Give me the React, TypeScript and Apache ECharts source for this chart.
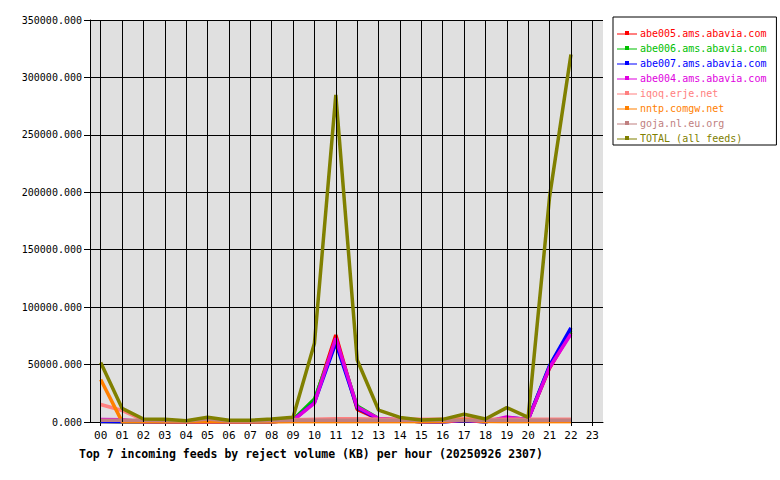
import React, { useEffect, useRef } from "react";
import * as echarts from "echarts";

const hours = ["00","01","02","03","04","05","06","07","08","09","10","11","12","13","14","15","16","17","18","19","20","21","22","23"];

const abe005 = [500, 200, 200, 100, 100, 300, 100, 100, 200, 1500, 18000, 75700, 11000, 2500, 1500, 200, 300, 1200, 300, 3000, 2500, 47000, 78000, null];
const abe006 = [500, 200, 200, 100, 100, 300, 100, 100, 200, 2000, 20000, 71000, 14000, 3000, 1500, 200, 300, 1200, 300, 3500, 2500, 48500, 80000, null];
const abe007 = [500, 200, 200, 100, 100, 300, 100, 100, 200, 1500, 17000, 68800, 12500, 2500, 1500, 200, 300, 1200, 300, 3500, 2500, 49000, 82000, null];
const abe004 = [2200, 2000, 300, 200, 100, 300, 100, 100, 200, 1500, 16500, 72900, 13000, 3000, 2000, 200, 300, 1500, 300, 4300, 2000, 47500, 76600, null];
const iqoq = [15200, 10000, 1500, 1000, 500, 1500, 500, 500, 1000, 2000, 2500, 2800, 2800, 2500, 2500, 2500, 2500, 2800, 2500, 2500, 2500, 2500, 2500, null];
const nntp = [37000, 300, 200, 100, 100, 300, 100, 100, 100, 200, 300, 300, 300, 300, 300, 300, 500, 2000, 500, 300, 300, 300, 300, null];
const goja = [1500, 1500, 1500, 1200, 800, 2500, 800, 800, 1200, 1500, 1500, 1500, 1500, 1500, 1500, 1500, 1500, 1500, 1500, 1500, 1500, 1500, 1500, null];
const total = [51800, 11900, 2600, 2300, 1100, 4100, 1500, 1500, 2600, 4100, 68500, 284700, 54000, 10400, 4000, 1700, 2300, 6700, 2600, 12500, 4100, 196000, 320000, null];

const seriesDefs = [
  { name: "abe005.ams.abavia.com", color: "#ff0000", data: abe005 },
  { name: "abe006.ams.abavia.com", color: "#00c000", data: abe006 },
  { name: "abe007.ams.abavia.com", color: "#0000ff", data: abe007 },
  { name: "abe004.ams.abavia.com", color: "#e000e0", data: abe004 },
  { name: "iqoq.erje.net", color: "#ff8080", data: iqoq },
  { name: "nntp.comgw.net", color: "#ff8000", data: nntp },
  { name: "goja.nl.eu.org", color: "#c08080", data: goja },
  { name: "TOTAL (all feeds)", color: "#808000", data: total },
];

const title = "Top 7 incoming feeds by reject volume (KB) per hour (20250926 2307)";
const mono = "DejaVu Sans Mono";

export default function App() {
  const ref = useRef<HTMLDivElement>(null);
  useEffect(() => {
    if (!ref.current) return;
    const chart = echarts.init(ref.current, null, { renderer: "svg" });
    chart.setOption({
      animation: false,
      backgroundColor: "#ffffff",
      title: {
        text: title,
        left: 74,
        top: 443,
        textStyle: { fontFamily: mono, fontSize: 11.5, fontWeight: "bold", color: "#000" },
      },
      legend: {
        orient: "vertical",
        left: 613,
        top: 17,
        padding: [10, 10, 1, 4],
        backgroundColor: "#ffffff",
        borderColor: "#000",
        borderWidth: 1,
        borderRadius: 0,
        itemWidth: 20,
        itemHeight: 6,
        itemGap: 3,
        icon: "path://M0,2.5L8,2.5L8,0L12,0L12,2.5L20,2.5L20,3.5L12,3.5L12,4L8,4L8,3.5L0,3.5Z",
        textStyle: { fontFamily: mono, fontSize: 10, lineHeight: 12, padding: [0, 0, 0, -2] },
        data: seriesDefs.map((s) => ({ name: s.name, textStyle: { color: s.color } })),
      },
      grid: {
        left: 90,
        right: 177,
        top: 20,
        bottom: 58,
        show: true,
        backgroundColor: "#e0e0e0",
        borderWidth: 0,
      },
      xAxis: {
        type: "category",
        data: hours,
        boundaryGap: true,
        axisLine: { show: true, lineStyle: { color: "#000", width: 1 } },
        axisTick: { show: true, alignWithLabel: true, length: 4, lineStyle: { color: "#000" } },
        axisLabel: { fontFamily: mono, fontSize: 11, color: "#000", margin: 8 },
        splitLine: { show: false },
      },
      yAxis: {
        type: "value",
        min: 0,
        max: 350000,
        interval: 50000,
        axisLine: { show: true, lineStyle: { color: "#000", width: 1 } },
        axisTick: { show: true, length: 6, lineStyle: { color: "#000" } },
        axisLabel: {
          fontFamily: mono,
          fontSize: 10,
          color: "#000",
          margin: 8,
          formatter: (v: number) => v.toFixed(3),
        },
        splitLine: { show: true, lineStyle: { color: "#000", width: 1 } },
      },
      series: [
        {
          name: "__grid",
          type: "line",
          data: [],
          silent: true,
          markLine: {
            silent: true,
            symbol: "none",
            label: { show: false },
            lineStyle: { color: "#000", width: 1, type: "solid" },
            data: hours.map((h) => ({ xAxis: h })),
          },
        },
        ...seriesDefs.map((s) => ({
          name: s.name,
          type: "line",
          data: s.data,
          symbol: "rect",
          symbolSize: 4,
          showSymbol: false,
          connectNulls: false,
          color: s.color,
          lineStyle: { color: s.color, width: 3.5 },
          itemStyle: { color: s.color },
        })),
      ],
    });
    return () => chart.dispose();
  }, []);
  return <div ref={ref} style={{ width: 780, height: 480, position: "absolute", left: 0, top: 0 }} />;
}
